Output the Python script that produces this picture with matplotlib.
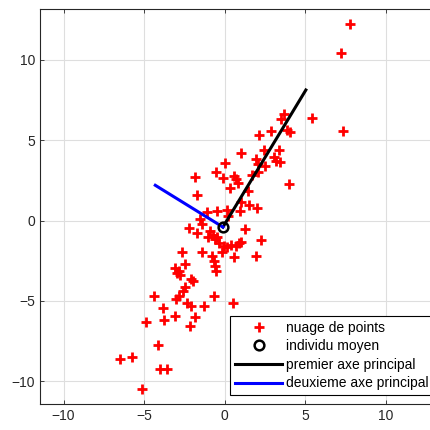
import matplotlib
matplotlib.use("Agg")
import matplotlib.pyplot as plt
import numpy as np

plt.rcParams['font.family'] = ['Liberation Sans', 'DejaVu Sans']

# --- data ---
x_pts = [7.8, 7.22, 5.43, 7.34,
         3.7, 3.49, 2.91, 3.9, 4.07, 2.16,
         2.43, 3.37, 1.02, 1.96, 3.05, 3.2, 3.42, 2.06, 2.54,
         1.73, 2.05, 3.99, 1.44,
         0.6, 0.72, 0.86,
         0.02, -0.52, -0.08, -1.82, 0.31, -1.7,
         1.02, 1.52, 2.04, 0.94, 0.16, -0.44, -1.08, 0.2,
         -1.5, -1.4, -2.2, -1.74,
         -0.9, -0.73, -1.02, -0.48, -0.36, -0.6,
         -0.05, 0.18, 0.38, 0.7, 0.9, 1.05, 1.27, 2.25, 1.97, 0.56,
         -0.17, -1.37, -0.8, -0.68, -0.6, -0.52,
         -2.63, -2.44,
         -3.06, -2.85, -2.97, -2.76,
         -2.06, -1.94, -2.45, -2.6, -2.81, -3.03,
         -4.4, -3.84, -2.31, -2.06, -1.25, -0.63, 0.55,
         -3.06, -3.76, -4.88, -1.85, -2.14,
         -4.13, -6.49, -5.75, -4.0, -3.59, -5.12]
y_pts = [12.23, 10.42, 6.4, 5.6,
         6.64, 6.31, 5.6, 5.62, 5.5, 5.3,
         4.42, 4.42, 4.19, 3.82, 3.96, 3.7, 3.62, 3.52, 3.38,
         2.82, 3.0, 2.25, 1.83,
         2.8, 2.58, 2.35,
         3.58, 3.05, 2.68, 2.7, 2.06, 1.6,
         1.15, 1.0, 0.8, 0.58, 0.68, 0.58, 0.52, 0.3,
         0.12, -0.18, -0.45, -0.75,
         -0.65, -0.87, -1.03, -1.0, -1.37, -1.15,
         -1.55, -1.62, -1.5, -1.55, -1.42, -1.3, -0.55, -1.22, -2.2, -2.24,
         -1.95, -1.97, -2.2, -2.5, -2.8, -3.11,
         -1.98, -2.67,
         -2.94, -3.15, -3.27, -3.4,
         -3.66, -3.77, -4.16, -4.38, -4.69, -4.9,
         -4.71, -5.43, -5.1, -5.29, -5.33, -4.72, -5.1,
         -5.93, -6.18, -6.3, -5.97, -6.55,
         -7.76, -8.63, -8.46, -9.25, -9.25, -10.45]

mean_pt = [-0.1, -0.4]
axis1_end = [5.05, 8.13]
axis2_end = [-4.3, 2.2]

labels = ['nuage de points', 'individu moyen',
          'premier axe principal', 'deuxieme axe principal']
xticks = [-10, -5, 0, 5, 10]
yticks = [-10, -5, 0, 5, 10]

# --- figure ---
fig = plt.figure(figsize=(4.3, 4.3), dpi=100)
ax = fig.add_axes([40/430, 26/430, 395/430, 395/430])

dark = (0.15, 0.15, 0.15)
ax.plot(x_pts, y_pts, linestyle='none', marker='+', color='red',
        markersize=6.8, markeredgewidth=2.0, label=labels[0], zorder=3)
ax.plot([mean_pt[0]], [mean_pt[1]], linestyle='none', marker='o',
        markerfacecolor='none', markeredgecolor='black', markersize=7,
        markeredgewidth=1.8, label=labels[1], zorder=5)
ax.plot([mean_pt[0], axis1_end[0]], [mean_pt[1], axis1_end[1]],
        color='black', linewidth=2.2, label=labels[2], zorder=4)
ax.plot([mean_pt[0], axis2_end[0]], [mean_pt[1], axis2_end[1]],
        color='blue', linewidth=2.2, label=labels[3], zorder=4)

ax.set_xlim(-11.46, 13.07)
ax.set_ylim(-11.41, 13.17)
ax.set_xticks(xticks)
ax.set_yticks(yticks)
ax.grid(True, color=(0.87, 0.87, 0.87), linewidth=0.8)
ax.set_axisbelow(True)
ax.tick_params(direction='in', top=True, right=True, length=3,
               labelsize=10, colors=dark, width=0.6)
for s in ax.spines.values():
    s.set_color(dark)
    s.set_linewidth(0.8)

leg = ax.legend(loc='lower right', bbox_to_anchor=(0.997, 0.022),
                borderaxespad=0, fancybox=False, edgecolor='black',
                framealpha=1, fontsize=10, handlelength=3.4,
                labelspacing=0.33, borderpad=0.35, handletextpad=0.3)
leg.get_frame().set_linewidth(0.8)

fig.savefig('out.png', dpi=100)
